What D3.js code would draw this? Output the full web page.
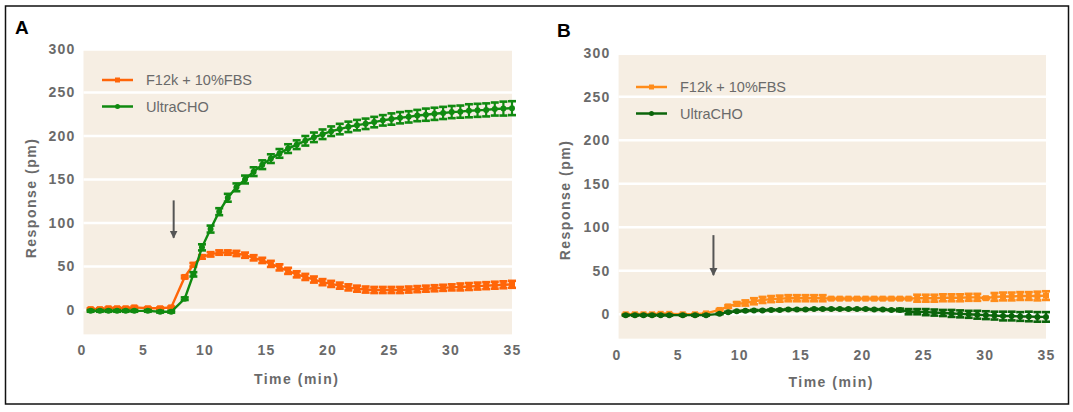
<!DOCTYPE html>
<html>
<head>
<meta charset="utf-8">
<script src="https://cdn.jsdelivr.net/npm/d3@7"></script>
<style>
  body { margin: 0; background: #fff; }
  svg text { font-family: "Liberation Sans", Arial, sans-serif; }
</style>
</head>
<body>
<script>
// sample times (min), shared by all four series
const timeMin = [0.75, 1.5, 2.2, 2.9, 3.6, 4.3, 5.4, 6.4, 7.3, 8.4, 9.1, 9.8,
  10.5, 11.2, 11.9, 12.6, 13.3, 14.0, 14.7, 15.4, 16.1, 16.8,
  17.5, 18.2, 18.9, 19.6, 20.3, 21.0, 21.7, 22.4, 23.1, 23.8,
  24.5, 25.2, 25.9, 26.6, 27.3, 28.0, 28.7, 29.4, 30.1, 30.8,
  31.5, 32.2, 32.9, 33.6, 34.3, 35.0];

// panel A
const f12kA = [1, 1, 2, 2, 2, 3, 2, 2, 3, 38, 52, 61,
  64, 66, 66, 65, 63, 60, 57, 53, 49, 45,
  41, 38, 35, 32, 30, 28, 26, 24.5, 23.5, 23,
  23, 23, 23, 23.5, 24, 24.5, 25, 25.5, 26, 26.5,
  27, 27.5, 28, 28.5, 29, 29.5];
const f12kErrA = [1, 1, 1, 1, 1, 1, 1, 1, 1, 1.5, 2, 2,
  2.5, 2.5, 2.5, 3, 3, 3, 3, 3.5, 3.5, 3.5,
  3.5, 3.5, 3.5, 3.5, 3.5, 3.5, 3.5, 3.5, 3.5, 3.5,
  3.5, 3.5, 3.5, 3.5, 3.5, 3.5, 3.5, 3.5, 3.5, 4,
  4, 4, 4, 4, 4, 4];
const ultraA = [-1, -1, -1, -1, -1, -1, -1, -2, -2, 13, 41, 72,
  93, 113, 129, 141, 150, 159, 167, 174, 180, 185.5,
  190, 194.5, 198.5, 202, 205.5, 208, 210.5, 212.5, 214, 216,
  218, 219.5, 221, 222, 223.5, 224.5, 225.5, 226.5, 227.5, 228,
  229, 229.5, 230, 231, 231.5, 232];
const ultraErrA = [1, 1, 1, 1, 1, 1, 1, 1, 1, 1.5, 2.5, 3.5,
  4, 4, 4.5, 4.5, 4.5, 5, 5, 5, 5, 5,
  5, 5.5, 5.5, 5.5, 5.5, 6, 6, 6, 6, 6,
  6, 6.5, 6.5, 6.5, 6.5, 7, 7, 7, 7, 7,
  7.5, 7.5, 7.5, 7.5, 8, 8];

// panel B
const f12kB = [0, 0, 0, 0, 0.5, 0.5, 0, 0, 1, 5, 9, 12,
  13, 15, 16.5, 17.5, 18, 18.5, 18.5, 18.5, 18.5, 18.5,
  18, 18, 18, 18, 18, 18, 18, 18, 18, 18,
  18.5, 18.5, 18.5, 19, 19, 19, 19.5, 19.5, 18.5, 20,
  20.5, 20.5, 21, 21, 21, 21.5];
const f12kErrB = [0.5, 0.5, 0.5, 0.5, 0.5, 0.5, 0.5, 0.5, 0.5, 1, 1.5, 2,
  3, 3.5, 3.5, 3.5, 3.5, 3.5, 3.5, 3.5, 3.5, 3.5,
  1, 1, 1, 1, 1, 1, 1, 1, 1, 1,
  4, 4, 4, 4, 4, 4, 4, 4, 1, 4.5,
  4.5, 4.5, 4.5, 4.5, 5, 5];
const ultraB = [-1, -1, -1, -1, -1, -1, -1, -1, -1, 0.5, 2.5, 3.5,
  4, 4.5, 4.5, 5, 5, 5.5, 5.5, 5.5, 6, 6,
  6, 6, 6, 6, 6, 5.5, 5.5, 5, 5, 3,
  3, 2.5, 2, 1.5, 1, 0.5, 0, -0.5, -1, -1.5,
  -2, -2, -2.5, -2.5, -3, -3];
const ultraErrB = [0.5, 0.5, 0.5, 0.5, 0.5, 0.5, 0.5, 0.5, 0.5, 0.5, 0.5, 0.5,
  0.5, 0.5, 0.5, 0.5, 0.5, 0.5, 0.5, 0.5, 0.5, 0.5,
  0.5, 0.5, 0.5, 0.5, 0.5, 0.5, 0.5, 0.5, 1.5, 3,
  3, 3.5, 3.5, 3.5, 4, 4, 4, 4.5, 4.5, 4.5,
  5, 5, 5, 5.5, 5.5, 5.5];

const seriesNames = ['F12k + 10%FBS', 'UltraCHO'];
const xTicks = [0, 5, 10, 15, 20, 25, 30, 35];
const yTicks = [0, 50, 100, 150, 200, 250, 300];
// arrows: time, top value, tip value
const arrowA = [7.5, 126, 83];
const arrowB = [7.9, 91, 45];

const W = 1073, H = 412;
const svg = d3.select('body').append('svg').attr('width', W).attr('height', H);

svg.append('rect')
  .attr('x', 5.5).attr('y', 6).attr('width', 1063).attr('height', 398)
  .attr('fill', 'none').attr('stroke', '#111').attr('stroke-width', 1.5);

const defs = svg.append('defs');
defs.append('marker')
  .attr('id', 'head')
  .attr('viewBox', '0 0 10 10')
  .attr('refX', 9).attr('refY', 5)
  .attr('markerWidth', 4).attr('markerHeight', 5)
  .attr('markerUnits', 'strokeWidth')
  .attr('orient', 'auto')
  .append('path').attr('d', 'M0,0 L10,5 L0,10 z').attr('fill', '#555');

const panels = [
  {
    label: 'A', labelX: 15, labelY: 34,
    xr: [81.4, 512], yr: [310, 49],
    legX: 102, legY: 80,
    titleY: 384, yTitleX: 31, yTitleY: 198,
    series: [
      { vals: f12kA, err: f12kErrA, color: '#ff6508', shape: 'square' },
      { vals: ultraA, err: ultraErrA, color: '#108a10', shape: 'circle' }
    ],
    arrow: arrowA
  },
  {
    label: 'B', labelX: 557, labelY: 37,
    xr: [616.5, 1046], yr: [314.3, 53.3],
    legX: 636, legY: 87,
    titleY: 387, yTitleX: 565, yTitleY: 200,
    series: [
      { vals: f12kB, err: f12kErrB, color: '#ff8c1a', shape: 'square' },
      { vals: ultraB, err: ultraErrB, color: '#0b650b', shape: 'circle' }
    ],
    arrow: arrowB
  }
];

panels.forEach(function(p) {
  const x = d3.scaleLinear().domain([0, 35]).range(p.xr);
  const y = d3.scaleLinear().domain([0, 300]).range(p.yr);
  const g = svg.append('g');

  // plot background
  g.append('rect')
    .attr('x', x(0.17)).attr('y', y(298))
    .attr('width', x(35) - x(0.17)).attr('height', y(-28) - y(298))
    .attr('fill', '#f6eee3');

  g.selectAll('.grid')
    .data(yTicks.slice(0, -1))
    .enter().append('line')
    .attr('x1', x(0.17)).attr('x2', x(35))
    .attr('y1', d => y(d)).attr('y2', d => y(d))
    .attr('stroke', '#fff').attr('stroke-width', 2.5);

  // axes
  const yAxis = g.append('g')
    .attr('transform', 'translate(' + x(0.17) + ',0)')
    .call(d3.axisLeft(y).tickValues(yTicks).tickSize(0).tickPadding(8));
  const xAxis = g.append('g')
    .attr('transform', 'translate(0,' + y(-28) + ')')
    .call(d3.axisBottom(x).tickValues(xTicks).tickSize(0).tickPadding(11));
  [xAxis, yAxis].forEach(function(a) {
    a.select('.domain').remove();
    a.selectAll('text')
      .attr('fill', '#6a6a6a')
      .style('font-size', '14px')
      .style('font-weight', 'bold')
      .style('letter-spacing', '1.2px');
  });

  g.append('text')
    .attr('x', (p.xr[0] + p.xr[1]) / 2).attr('y', p.titleY)
    .attr('text-anchor', 'middle')
    .attr('fill', '#6a6a6a')
    .style('font-size', '14px').style('font-weight', 'bold').style('letter-spacing', '1.5px')
    .text('Time (min)');

  g.append('text')
    .attr('transform', 'translate(' + p.yTitleX + ',' + p.yTitleY + ')rotate(-90)')
    .attr('text-anchor', 'middle').attr('dy', '0.35em')
    .attr('fill', '#6a6a6a')
    .style('font-size', '14px').style('font-weight', 'bold').style('letter-spacing', '1.5px')
    .text('Response (pm)');

  g.append('text')
    .attr('x', p.labelX).attr('y', p.labelY)
    .attr('fill', '#000')
    .style('font-size', '19px').style('font-weight', 'bold')
    .text(p.label);

  // arrow
  g.append('line')
    .attr('x1', x(p.arrow[0])).attr('x2', x(p.arrow[0]))
    .attr('y1', y(p.arrow[1])).attr('y2', y(p.arrow[2]))
    .attr('stroke', '#555').attr('stroke-width', 2)
    .attr('marker-end', 'url(#head)');

  const line = d3.line().x((d, i) => x(timeMin[i])).y(d => y(d));

  p.series.forEach(function(s, k) {
    const sg = g.append('g');
    const pts = s.vals.map((v, i) => ({ t: timeMin[i], v: v, e: s.err[i] }));

    sg.append('path')
      .datum(s.vals)
      .attr('d', line)
      .attr('fill', 'none')
      .attr('stroke', s.color)
      .attr('stroke-width', 2.4);

    const eb = sg.selectAll('.eb').data(pts).enter().append('g');
    eb.append('line')
      .attr('x1', d => x(d.t)).attr('x2', d => x(d.t))
      .attr('y1', d => y(d.v - d.e)).attr('y2', d => y(d.v + d.e))
      .attr('stroke', s.color).attr('stroke-width', 2.2);
    [-1, 1].forEach(function(sign) {
      eb.append('line')
        .attr('x1', d => x(d.t) - 4).attr('x2', d => x(d.t) + 4)
        .attr('y1', d => y(d.v + sign * d.e)).attr('y2', d => y(d.v + sign * d.e))
        .attr('stroke', s.color).attr('stroke-width', 2.6);
    });

    if (s.shape === 'square') {
      sg.selectAll('.mk').data(pts).enter().append('rect')
        .attr('x', d => x(d.t) - 3).attr('y', d => y(d.v) - 3)
        .attr('width', 6).attr('height', 6)
        .attr('fill', s.color);
    } else {
      sg.selectAll('.mk').data(pts).enter().append('circle')
        .attr('cx', d => x(d.t)).attr('cy', d => y(d.v))
        .attr('r', 3)
        .attr('fill', s.color);
    }

    // legend entry
    const ly = p.legY + k * 26.5;
    g.append('line')
      .attr('x1', p.legX).attr('x2', p.legX + 31)
      .attr('y1', ly).attr('y2', ly)
      .attr('stroke', s.color).attr('stroke-width', 2.5);
    if (s.shape === 'square') {
      g.append('rect')
        .attr('x', p.legX + 13).attr('y', ly - 2.5)
        .attr('width', 5).attr('height', 5).attr('fill', s.color);
    } else {
      g.append('circle')
        .attr('cx', p.legX + 15.5).attr('cy', ly).attr('r', 2.5).attr('fill', s.color);
    }
    g.append('text')
      .attr('x', p.legX + 44).attr('y', ly).attr('dy', '0.35em')
      .attr('fill', '#6a6a6a')
      .style('font-size', '14.5px')
      .text(seriesNames[k]);
  });
});
</script>
</body>
</html>
